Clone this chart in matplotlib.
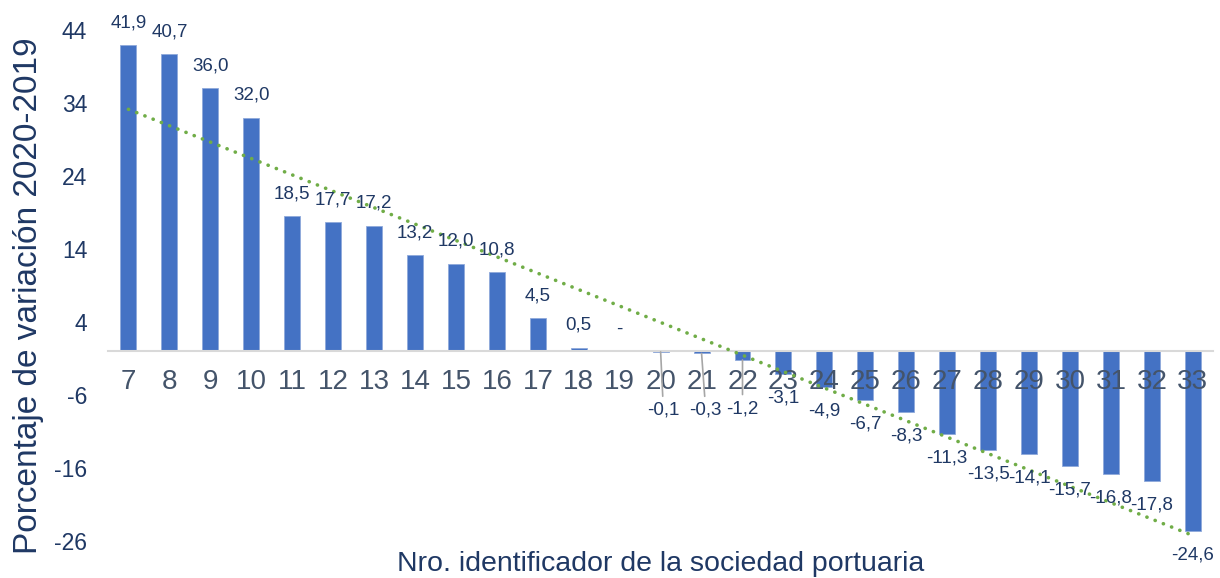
import numpy as np
import matplotlib
matplotlib.use("Agg")
import matplotlib.pyplot as plt

plt.rcParams['font.family'] = ['Liberation Sans', 'DejaVu Sans']
plt.rcParams['axes.unicode_minus'] = False

ports = list(range(7, 34))
variation = [41.9, 40.7, 36.0, 32.0, 18.5, 17.7, 17.2, 13.2, 12.0, 10.8, 4.5, 0.5, 0.0,
             -0.1, -0.3, -1.2, -3.1, -4.9, -6.7, -8.3, -11.3, -13.5, -14.1, -15.7,
             -16.8, -17.8, -24.6]
y_ticks = [-26, -16, -6, 4, 14, 24, 34, 44]

bar_color = '#4472C4'
navy = '#1F3864'
gray_text = '#44546A'
trend_color = '#70AD47'

fig = plt.figure(figsize=(12.2, 5.78), dpi=100)
ax = fig.add_axes([0.0885, 0.064, 0.906, 0.884])
ax.set_axisbelow(False)

x = np.array(ports)
vals = np.array(variation)
ax.bar(x, vals, width=0.39, color=bar_color, edgecolor='#8EA9DB', linewidth=0.6, zorder=1)

# linear trendline (as in the spreadsheet)
slope, icpt = np.polyfit(x, vals, 1)
ax.plot([x[0], x[-1]], [slope * x[0] + icpt, slope * x[-1] + icpt],
        color=trend_color, linewidth=2.6, linestyle=(0, (0.05, 2.4)),
        dash_capstyle='round', zorder=3)

# data labels
for xi, v in zip(x, vals):
    txt = '-' if v == 0 else f'{v:.1f}'.replace('.', ',')
    if xi in (20, 21, 22):
        dx = {20: 2, 21: 3, 22: 0}[xi]
        dy = {20: -42, 21: -41, 22: -35}[xi]
        ax.annotate(txt, xy=(xi, v), xytext=(dx, dy), textcoords='offset points',
                    ha='center', va='center', fontsize=13.5, color=navy,
                    arrowprops=dict(arrowstyle='-', color='#A6A6A6', lw=1.2,
                                    shrinkA=2, shrinkB=0),
                    annotation_clip=False, zorder=4)
        continue
    off = 16 if v >= 0 else -17.5
    ax.annotate(txt, xy=(xi, v), xytext=(0, off), textcoords='offset points',
                ha='center', va='center', fontsize=13.5, color=navy,
                annotation_clip=False, zorder=4)

ax.set_xlim(x[0] - 0.5, x[-1] + 0.5)
ax.set_ylim(y_ticks[0], y_ticks[-1])
ax.set_xticks(x)
ax.set_xticklabels([str(p) for p in ports])
ax.set_yticks(y_ticks)

ax.spines['bottom'].set_position(('data', 0))
ax.spines['bottom'].set_color('#D9D9D9')
ax.spines['bottom'].set_linewidth(1.5)
for s in ['top', 'right', 'left']:
    ax.spines[s].set_visible(False)

ax.tick_params(axis='x', length=0, pad=13, labelsize=20, labelcolor=gray_text)
ax.tick_params(axis='y', length=0, pad=15, labelsize=16.5, labelcolor=navy)

ax.set_ylabel('Porcentaje de variación 2020-2019', fontsize=24, color=navy)
ax.yaxis.set_label_coords(-0.058, 0.48)
ax.text(0.5, -0.045, 'Nro. identificador de la sociedad portuaria', transform=ax.transAxes,
        ha='center', va='center', fontsize=20.5, color=navy)

fig.savefig('out.png', dpi=100)
